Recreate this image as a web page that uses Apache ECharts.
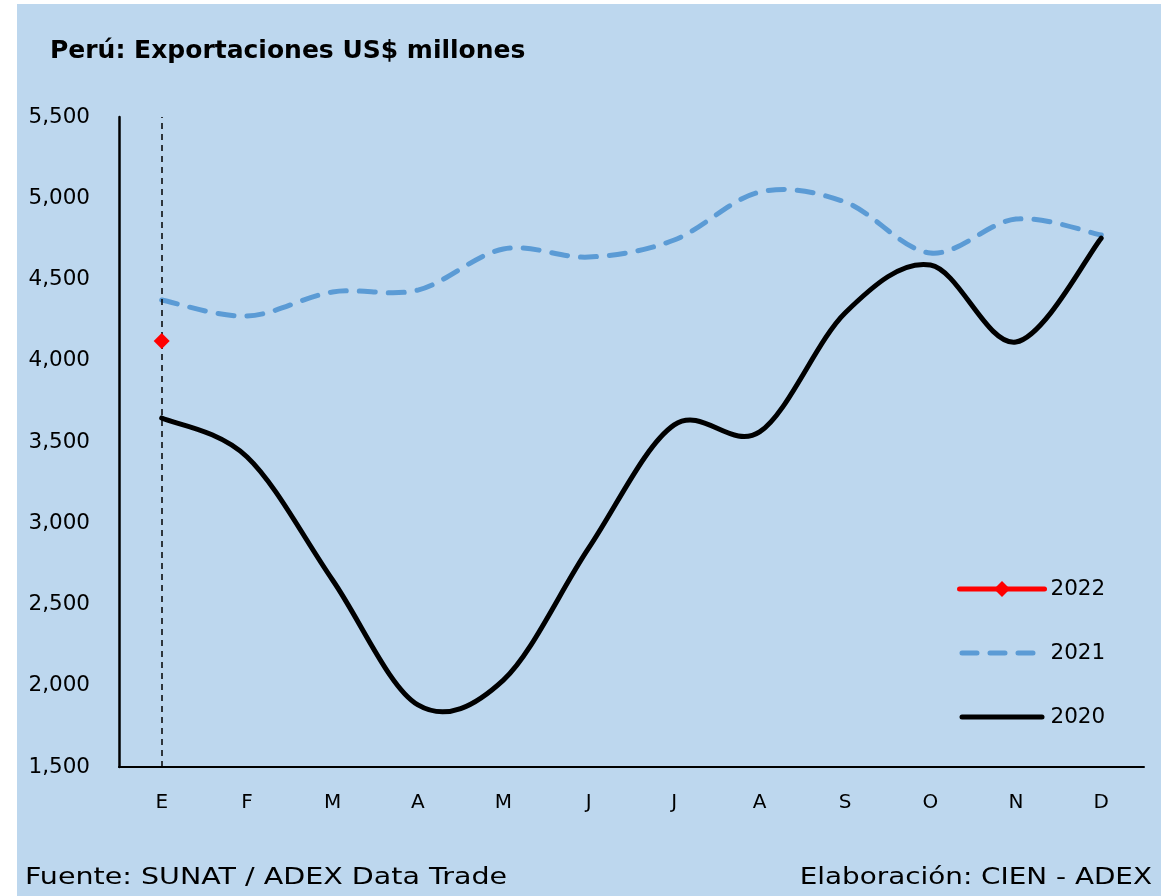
<!DOCTYPE html>
<html>
<head>
<meta charset="utf-8">
<script src="https://cdn.jsdelivr.net/npm/echarts@6/dist/echarts.min.js"></script>
<style>
html,body{margin:0;padding:0;background:#fff;}
#chart{width:1161px;height:896px;}
</style>
</head>
<body>
<div id="chart"></div>
<script>
const months = ['E','F','M','A','M','J','J','A','S','O','N','D'];
const y2020 = [3648, 3408, 2651, 1882, 2035, 2848, 3605, 3562, 4294, 4589, 4115, 4755];
const y2021 = [4374, 4275, 4423, 4435, 4688, 4638, 4743, 5038, 4977, 4663, 4872, 4774];
const y2022 = [4122];
const yTicks = [1500, 2000, 2500, 3000, 3500, 4000, 4500, 5000, 5500];

const FONT = '"DejaVu Sans", "Liberation Sans", sans-serif';

// Excel-like smoothed line (Catmull-Rom through the data points, positions from the axes)
function smoothRender(styleObj) {
  return function (params, api) {
    if (params.dataIndexInside !== 0) return null;
    const n = params.dataInsideLength;
    const pts = [];
    for (let i = 0; i < n; i++) pts.push(api.coord([api.value(0, i), api.value(1, i)]));
    let d = 'M' + pts[0][0] + ' ' + pts[0][1];
    for (let i = 0; i < n - 1; i++) {
      const p0 = pts[i - 1] || pts[i], p1 = pts[i], p2 = pts[i + 1], p3 = pts[i + 2] || pts[i + 1];
      const c1x = p1[0] + (p2[0] - p0[0]) / 6, c1y = p1[1] + (p2[1] - p0[1]) / 6;
      const c2x = p2[0] - (p3[0] - p1[0]) / 6, c2y = p2[1] - (p3[1] - p1[1]) / 6;
      d += ' C' + c1x + ' ' + c1y + ' ' + c2x + ' ' + c2y + ' ' + p2[0] + ' ' + p2[1];
    }
    return {type: 'path', shape: {pathData: d}, style: Object.assign({fill: 'none'}, styleObj)};
  };
}

const ICON_SOLID = 'path://M0,0L0,0M85,18L85,18M2.5,6.5H82.5A2.5,2.5 0 0 1 82.5,11.5H2.5A2.5,2.5 0 0 1 2.5,6.5Z';
const ICON_DASH = 'path://M0,0L0,0M85,18L85,18' +
  'M2.5,6.5H17.5A2.5,2.5 0 0 1 17.5,11.5H2.5A2.5,2.5 0 0 1 2.5,6.5Z' +
  'M30.5,6.5H45.5A2.5,2.5 0 0 1 45.5,11.5H30.5A2.5,2.5 0 0 1 30.5,6.5Z' +
  'M58.5,6.5H73.5A2.5,2.5 0 0 1 73.5,11.5H58.5A2.5,2.5 0 0 1 58.5,6.5Z';

const chart = echarts.init(document.getElementById('chart'), null, {renderer: 'canvas'});
const option = {
  animation: false,
  backgroundColor: '#ffffff',
  graphic: [
    {type: 'rect', z: -10, silent: true,
     shape: {x: 17, y: 4, width: 1144, height: 892},
     style: {fill: '#BDD7EE'}},
    {type: 'text', x: 50, y: 51, silent: true,
     style: {text: 'Perú: Exportaciones US$ millones', fill: '#000',
             font: 'bold 25px ' + FONT, align: 'left', verticalAlign: 'middle'}},
    {type: 'text', x: 25, y: 878, scaleX: 1.24, silent: true,
     style: {text: 'Fuente: SUNAT / ADEX Data Trade', fill: '#000',
             font: '23px ' + FONT, align: 'left', verticalAlign: 'middle'}},
    {type: 'text', x: 1152, y: 878, scaleX: 1.21, silent: true,
     style: {text: 'Elaboración: CIEN - ADEX', fill: '#000',
             font: '23px ' + FONT, align: 'right', verticalAlign: 'middle'}}
  ],
  legend: {
    orient: 'vertical', left: 952, top: 573,
    itemWidth: 85, itemHeight: 20, itemGap: 42,
    data: [
      {name: '2022', lineStyle: {width: 5}},
      {name: '2021', icon: ICON_DASH},
      {name: '2020', icon: ICON_SOLID}
    ],
    textStyle: {fontFamily: FONT, fontSize: 21.5, color: '#000', padding: [0, 0, 0, 1]}
  },
  grid: {left: 119, top: 117, right: 17, bottom: 129, containLabel: false},
  xAxis: {
    type: 'category', data: months, boundaryGap: true,
    axisLine: {lineStyle: {color: '#000', width: 2}},
    axisTick: {show: false},
    axisLabel: {fontFamily: FONT, fontSize: 20, color: '#000', margin: 26}
  },
  yAxis: {
    type: 'value', min: yTicks[0], max: yTicks[yTicks.length - 1], interval: 500,
    axisLine: {show: true, lineStyle: {color: '#000', width: 2.5}},
    axisTick: {show: false},
    splitLine: {show: false},
    axisLabel: {fontFamily: FONT, fontSize: 21.5, color: '#000', margin: 29,
      formatter: v => v.toLocaleString('en-US')}
  },
  series: [
    {
      name: '2020', type: 'custom', z: 3,
      data: y2020.map((v, i) => [i, v]),
      encode: {x: 0, y: 1},
      itemStyle: {color: '#000000'},
      renderItem: smoothRender({stroke: '#000000', lineWidth: 5, lineCap: 'round', lineJoin: 'round'})
    },
    {
      name: '2021', type: 'custom', z: 2,
      data: y2021.map((v, i) => [i, v]),
      encode: {x: 0, y: 1},
      itemStyle: {color: '#5B9BD5'},
      renderItem: smoothRender({stroke: '#5B9BD5', lineWidth: 5, lineCap: 'round', lineJoin: 'round', lineDash: [16, 13]})
    },
    {
      name: '2022', type: 'line', data: y2022,
      symbol: 'diamond', symbolSize: 16, showSymbol: true, z: 5,
      lineStyle: {color: '#FF0000', width: 5, cap: 'round'},
      itemStyle: {color: '#FF0000'},
      markLine: {
        silent: true, symbol: ['none', 'none'],
        label: {show: false},
        lineStyle: {color: '#000', type: [6, 5], width: 1.5},
        data: [{xAxis: 0}]
      }
    }
  ]
};
chart.setOption(option);
</script>
</body>
</html>
